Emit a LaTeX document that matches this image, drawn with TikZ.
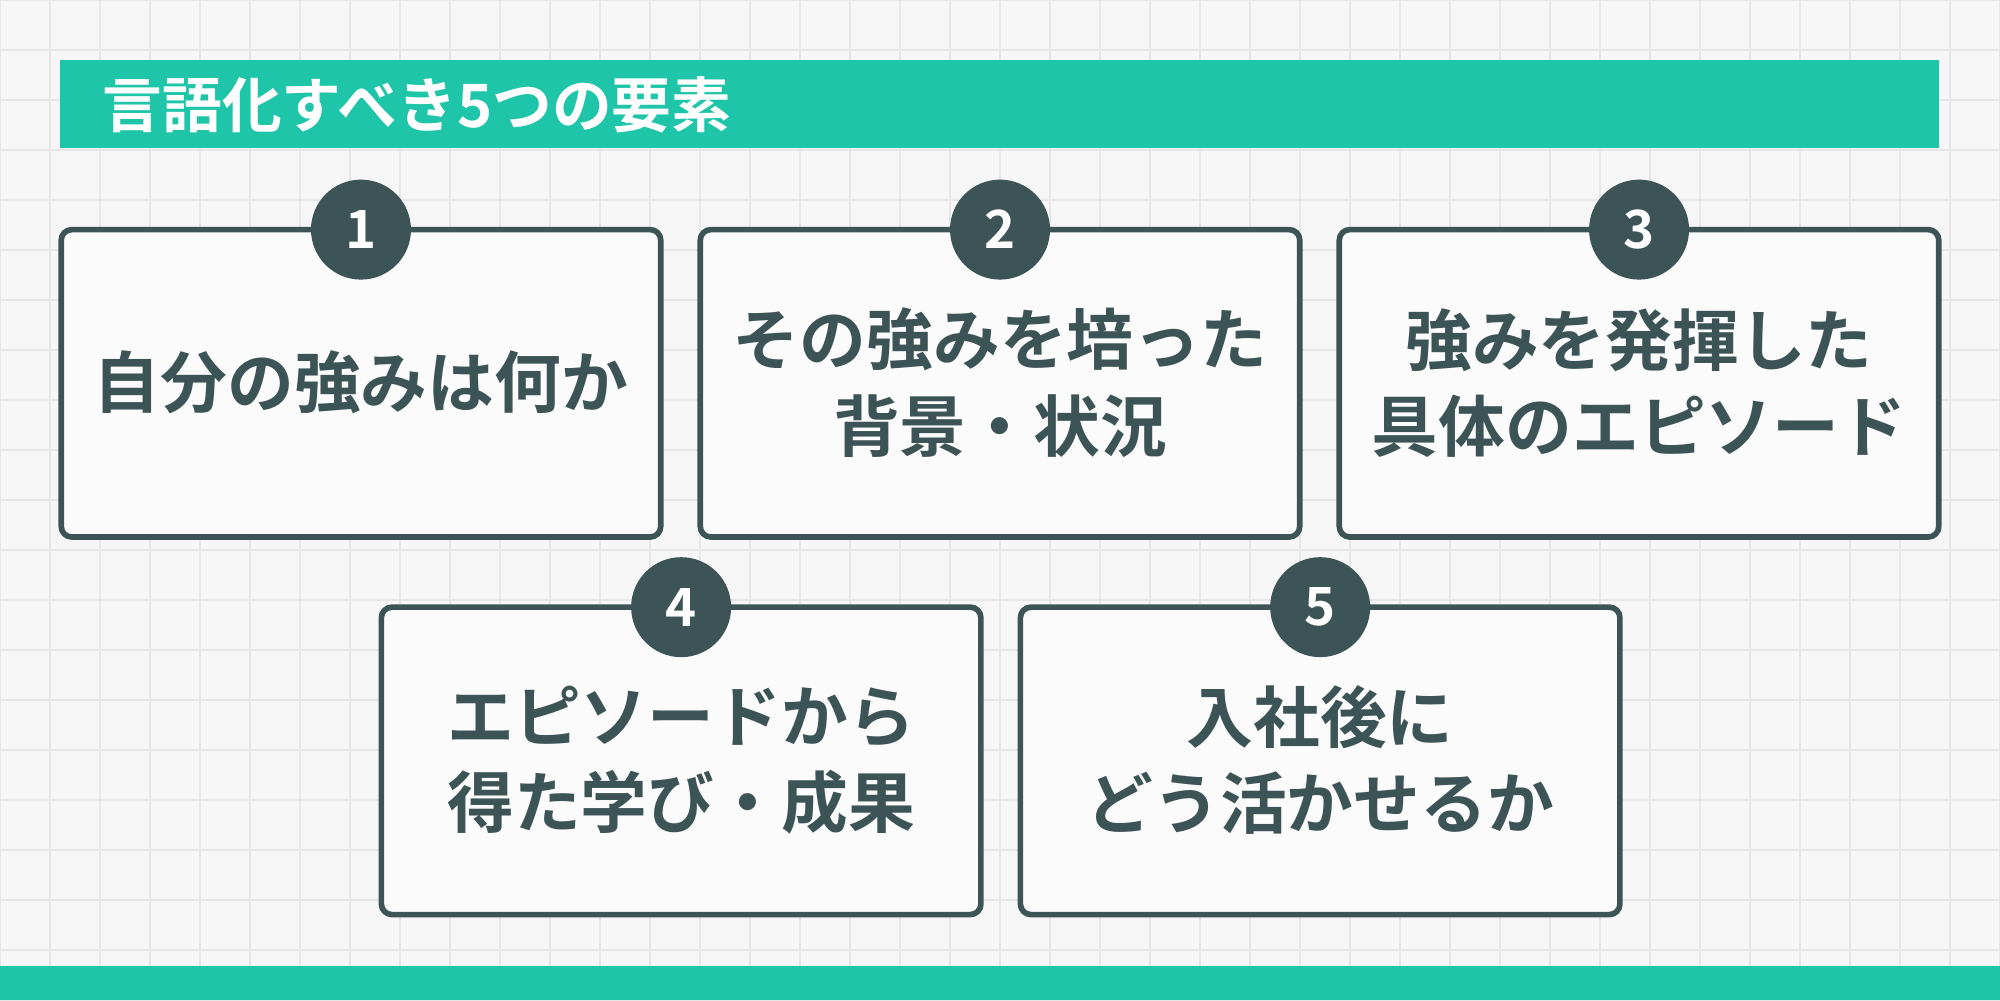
\documentclass[tikz,border=0pt]{standalone}
\usepackage{fontspec}
\setmainfont{Noto Sans CJK JP}[BoldFont={* Bold}]
\definecolor{teal}{HTML}{1EC5A8}
\definecolor{dk}{HTML}{3D5457}
\definecolor{bg}{HTML}{F6F6F6}
\definecolor{gridc}{HTML}{E6E6E6}
\begin{document}
\begin{tikzpicture}[x=0.012755cm,y=-0.012755cm,
  card/.style={draw=dk,line width=1.6pt,fill=white!60!bg,rounded corners=3pt},
  badge/.style={circle,fill=dk,minimum size=1cm,inner sep=0pt,text=white,font=\bfseries\fontsize{15}{15}\selectfont},
  lbl/.style={text=dk,align=center,font=\bfseries\fontsize{19}{24.5}\selectfont}]
\fill[bg] (0,0) rectangle (1568,784);
\useasboundingbox (0,0) rectangle (1568,784);
\foreach \i in {0,...,40}{\draw[gridc,line width=0.5pt] (\i*39.2,0) -- (\i*39.2,784);}
\foreach \i in {0,...,20}{\draw[gridc,line width=0.5pt] (0,\i*39.2) -- (1568,\i*39.2);}
\fill[teal] (47,47) rectangle (1520,116);
\node[anchor=west,inner sep=0pt,text=white,font=\bfseries\fontsize{17}{18}\selectfont] (title) at (80,82) {言語化すべき5つの要素};
\fill[teal] (0,757) rectangle (1568,784);
\foreach \n/\x/\y/\t in {1/48/180/{自分の強みは何か},2/549/180/{その強みを培った\\背景・状況},3/1050/180/{強みを発揮した\\具体のエピソード},4/299/476/{エピソードから\\得た学び・成果},5/800/476/{入社後に\\どう活かせるか}}{
  \draw[card] (\x,\y) rectangle ++(470,241);
  \node[lbl] (t\n) at (\x+235,\y+120) {\t};
  \node[badge] (b\n) at (\x+235,\y) {\n};
}
\end{tikzpicture}
\end{document}
